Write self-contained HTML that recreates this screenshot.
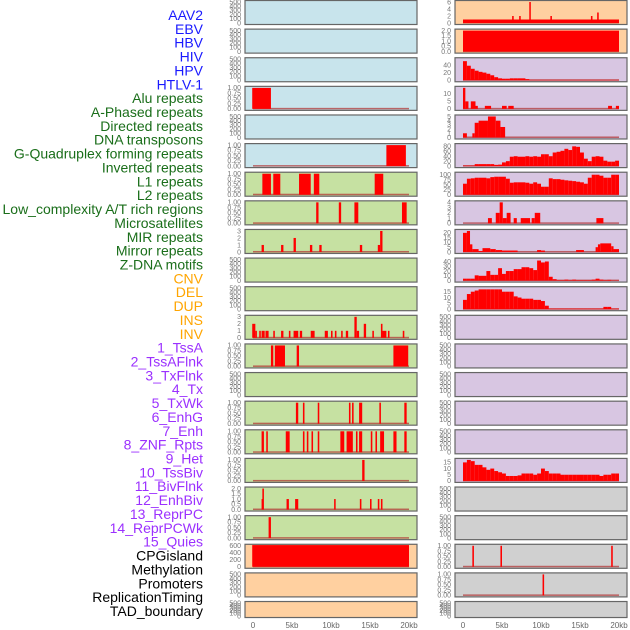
<!DOCTYPE html>
<html><head><meta charset="utf-8"><style>
body{margin:0;background:#fff;width:630px;height:630px;overflow:hidden}
svg{display:block}
.lab{font-family:"Liberation Sans",sans-serif;font-size:14px}
.tk{font-family:"Liberation Sans",sans-serif;font-size:7px;fill:#777}
.xt{font-family:"Liberation Sans",sans-serif;font-size:8px;fill:#666}
</style></head><body>
<svg id="c" width="630" height="630"></svg>
<script>
const labels=["AAV2","EBV","HBV","HIV","HPV","HTLV-1","Alu repeats","A-Phased repeats","Directed repeats","DNA transposons","G-Quadruplex forming repeats","Inverted repeats","L1 repeats","L2 repeats","Low_complexity A/T rich regions","Microsatellites","MIR repeats","Mirror repeats","Z-DNA motifs","CNV","DEL","DUP","INS","INV","1_TssA","2_TssAFlnk","3_TxFlnk","4_Tx","5_TxWk","6_EnhG","7_Enh","8_ZNF_Rpts","9_Het","10_TssBiv","11_BivFlnk","12_EnhBiv","13_ReprPC","14_ReprPCWk","15_Quies","CPGisland","Methylation","Promoters","ReplicationTiming","TAD_boundary"];
const labelColors=["#1a1aff","#1a1aff","#1a1aff","#1a1aff","#1a1aff","#1a1aff","#1a6e1a","#1a6e1a","#1a6e1a","#1a6e1a","#1a6e1a","#1a6e1a","#1a6e1a","#1a6e1a","#1a6e1a","#1a6e1a","#1a6e1a","#1a6e1a","#1a6e1a","#ffa500","#ffa500","#ffa500","#ffa500","#ffa500","#9b30ff","#9b30ff","#9b30ff","#9b30ff","#9b30ff","#9b30ff","#9b30ff","#9b30ff","#9b30ff","#9b30ff","#9b30ff","#9b30ff","#9b30ff","#9b30ff","#9b30ff","#000","#000","#000","#000","#000"];
const xTicks=[0,5,10,15,20];
const xTickLabels=["0","5kb","10kb","15kb","20kb"];
const T500=[0,100,200,300,400,500], T1=[0,0.25,0.5,0.75,1];
const leftTicks=[T500,T500,T500,T1,T500,T1,T1,T1,[0,1,2,3],T500,T500,[0,1,2,3],T1,T500,T1,T1,T1,[0,0.5,1,1.5,2],T1,[0,200,400,600],T500,T500];
const leftBars=[
 [],[],[],[[-0.1,2.3,1]],[],[[17.1,19.6,1]],
 [[1.2,2.3,1],[2.6,3.5,1],[5.9,7.4,1],[7.8,8.5,1],[15.6,16.7,1]],
 [[8.1,8.4,1],[11.0,11.3,1],[13.0,13.5,1],[19.1,19.7,1]],
 [[1.1,1.4,1],[3.6,3.9,1],[5.2,5.5,2],[7.3,7.6,1],[8.5,8.8,1],[13.7,14.0,1],[16.0,16.3,1],[16.3,16.6,3]],
 [],[],
 [[-0.1,0.3,2],[0.3,0.5,1],[0.8,1.0,1],[1.1,1.5,1],[1.6,2.0,1],[2.6,2.8,1],[3.6,3.9,1],[4.6,4.8,1],[5.2,5.8,1],[6.0,6.3,1],[7.4,7.9,1],[9.2,9.6,1],[10.0,10.2,1],[10.5,10.7,1],[11.3,11.5,1],[11.9,12.2,1],[13.0,13.3,3],[13.3,13.6,1],[14.2,14.5,2],[15.3,15.5,1],[16.4,16.6,2],[16.6,17.1,1],[17.3,17.5,1],[19.2,19.4,1]],
 [[2.3,2.6,1],[2.8,4.1,1],[5.6,5.9,1],[18.0,19.9,1]],
 [],
 [[5.5,5.8,1],[6.4,6.6,1],[8.3,8.5,1],[12.3,12.5,1],[12.7,12.9,1],[13.6,14.0,1],[16.2,16.4,1],[19.4,19.7,1]],
 [[1.1,1.4,1],[1.7,1.9,1],[4.2,4.7,1],[6.4,6.6,1],[6.9,7.1,1],[7.5,7.7,1],[8.3,8.5,1],[11.2,11.7,1],[12.0,12.8,1],[13.2,13.4,1],[13.6,14.0,1],[15.1,15.3,1],[15.7,15.9,1],[16.3,16.8,1],[18.0,18.4,1],[19.4,19.7,1]],
 [[14.0,14.3,1]],
 [[1.1,1.3,1],[1.2,1.4,2],[4.3,4.6,1],[5.4,5.8,1],[10.4,10.6,1],[13.7,13.9,1],[15.0,15.2,1],[16.0,16.2,1],[16.4,16.6,1]],
 [[2.0,2.3,1]],
 [[-0.1,20.0,620]],
 [],[]];
const leftBg=["#c8e4ec","#c8e4ec","#c8e4ec","#c8e4ec","#c8e4ec","#c8e4ec","#c6e1a2","#c6e1a2","#c6e1a2","#c6e1a2","#c6e1a2","#c6e1a2","#c6e1a2","#c6e1a2","#c6e1a2","#c6e1a2","#c6e1a2","#c6e1a2","#c6e1a2","#ffd0a0","#ffd0a0","#ffd0a0"];
const hbvBins=[50,38,30,25,22,20,17,13,8,5,4,4,5,5,5,5,3,1,1,1,1,1,1,1,1,1,1,1,1,1,1,1,1,1,1,1,1,1,1,1];
const gquadBins=[2,2,2,8,8,8,8,8,5,6,15,20,38,40,38,38,40,38,40,38,48,48,40,55,58,62,70,65,80,78,55,30,20,38,40,38,22,18,18,22];
const l1Bins=[55,80,82,85,85,85,82,88,90,90,90,80,60,62,62,62,60,55,62,55,40,40,82,78,78,75,72,70,68,65,62,55,85,100,100,95,85,85,100,100];
const zdnaBins=[4,4,4,11,10,10,20,12,12,26,14,20,20,24,24,28,28,26,22,42,38,40,8,3,1,1,2,1,2,1,1,1,1,2,4,2,1,1.5,0.5,0.5];
const cnvBins=[8,13,15,16,17,17,17,17,17,17,15,15,15,11,10,9,9,9,8,8,7,3,0.5,0.5,0.5,0.5,0.5,0.5,0.5,0.5,0.5,0.5,0.5,0.5,0.5,0.5,2,2,0.5,0.5];
const hetBins=[15,17,16,13,13,11,9,10,8,7,6,4,4,4,4.5,6,6,6,5,6,10,8,6,6,6,5,5,5,5,5,5,5,5,5,5,4,5,5,6,6];
const rightTicks=[[0,2,4,6],[0,0.5,1,1.5,2],[0,20,40],[0,5,10],[0,1,2,3,4,5],[0,20,40,60,80],[0,25,50,75,100],[0,1,2,3,4],[0,5,10,15,20],[0,10,20,30,40],[0,5,10,15],T500,T500,T500,T500,T500,[0,5,10,15],T500,T500,T1,T1,T500];
const rightYmax=[6,2,55,14,5,85,105,4,22,44,18,500,500,500,500,500,17,500,500,1,1,500];
const rightBars=[
 [[0,20,1],[6.3,6.5,2],[7.2,7.4,2],[8.5,8.65,6],[11.2,11.4,2],[16.4,16.6,2],[17.2,17.4,3]],
 [[0,20,2]],
 "hbv",
 [[0,0.3,14],[0.3,0.7,5],[1.0,1.6,5],[1.6,1.9,2],[2.8,3.6,2],[5.0,5.6,2],[5.8,6.5,2],[18.6,19.1,2],[19.6,20,2]],
 [[0,0.5,1],[1.2,1.5,1],[1.5,2.0,3.5],[2.0,3.2,4],[3.2,4.2,5],[4.2,4.8,4],[4.8,5.4,2.5]],
 "gquad","l1",
 [[3.2,3.7,1],[4.2,4.7,2],[4.7,5.1,4],[5.1,5.6,1],[5.6,6.1,2],[6.5,6.9,1],[7.4,8.6,1],[8.8,9.2,1],[9.2,9.9,2],[17.1,18.0,1]],
 [[0,0.5,20],[0.5,0.9,22],[0.9,1.2,8],[1.2,2.0,3],[2.0,2.5,1],[2.5,3.5,4],[3.5,4.2,3],[4.2,5.0,2],[5.0,7.0,1.5],[9.5,10.0,2],[10.0,10.5,1.5],[14.5,15.5,2],[17.0,17.3,5],[17.3,17.6,8],[17.6,19.0,9],[19.0,19.3,6],[19.3,20,3]],
 "zdna","cnv",[],[],[],[],[],"het",[],[],
 [[1.2,1.4,1],[4.8,5.0,1],[19.0,19.2,1]],
 [[10.2,10.4,1]],[]];
const binSets={hbv:hbvBins,gquad:gquadBins,l1:l1Bins,zdna:zdnaBins,cnv:cnvBins,het:hetBins};
const rightBg=["#ffd0a0","#ffd0a0","#d8c6e2","#d8c6e2","#d8c6e2","#d8c6e2","#d8c6e2","#d8c6e2","#d8c6e2","#d8c6e2","#d8c6e2","#d8c6e2","#d8c6e2","#d8c6e2","#d8c6e2","#d8c6e2","#d8c6e2","#d0d0d0","#d0d0d0","#d0d0d0","#d0d0d0","#d0d0d0"];

const svg=document.getElementById('c');
const NS='http://www.w3.org/2000/svg';
function el(tag,attrs,parent){const e=document.createElementNS(NS,tag);for(const k in attrs)e.setAttribute(k,attrs[k]);(parent||svg).appendChild(e);return e;}
function rowTop(i){return 0.5+i*28.62;}
function rowH(i){return i===21?16:24;}
function xScale(side,kb){return (side===0?253:463)+kb*7.8;}

labels.forEach((t,i)=>{
  const e=el('text',{x:203,y:20+i*13.86,'text-anchor':'end',fill:labelColors[i],class:'lab'});
  
  
  e.textContent=t;
});

function drawPanel(side,i,ticks,ymax,bars,bg){
  const top=rowTop(i),h=rowH(i);
  const x0=side===0?245:455,w=172;
  const g=el('g',{});
  
  
  el('rect',{x:x0,y:top,width:w,height:h,fill:bg},g);
  const yb=top+h-1.5,ih=h-3;
  const yS=v=>yb-v/ymax*ih;
  if(bars.length>0){
    el('rect',{x:xScale(side,0),y:yb-1,width:xScale(side,20)-xScale(side,0),height:1.5,fill:'#b03030',opacity:0.7},g);
  }
  bars.forEach(d=>{
    const xa=xScale(side,d[0]),xb=xScale(side,d[1]);
    const r=el('rect',{x:xa,y:yS(d[2]),width:Math.max(1.5,xb-xa),height:yb-yS(d[2]),fill:'#ff0000'},g);
    
    
  });
  el('rect',{x:x0,y:top,width:w,height:h,fill:'none',stroke:'#666',"stroke-width":1.2},g);
  ticks.forEach(v=>{
    const t=el('text',{x:x0-4,y:yS(v)+2.3,'text-anchor':'end',class:'tk'},g);
    
    
    t.textContent=(ticks===T1)?v.toFixed(2):(ticks[ticks.length-1]<=2&&ticks.length===5?v.toFixed(1):String(v));
  });
}
for(let i=0;i<22;i++){
  const lt=leftTicks[i];
  drawPanel(0,i,lt,lt[lt.length-1],leftBars[i],leftBg[i]);
  let rb=rightBars[i];
  if(typeof rb==='string'){const bins=binSets[rb];rb=bins.map((v,k)=>[k*0.5,k*0.5+0.5,v]);}
  drawPanel(1,i,rightTicks[i],rightYmax[i],rb,rightBg[i]);
}
[0,1].forEach(side=>{
  xTicks.forEach((v,k)=>{
    const t=el('text',{x:xScale(side,v),y:628,'text-anchor':'middle',class:'xt'});
    
    
    t.textContent=xTickLabels[k];
  });
});
</script>
</body></html>
